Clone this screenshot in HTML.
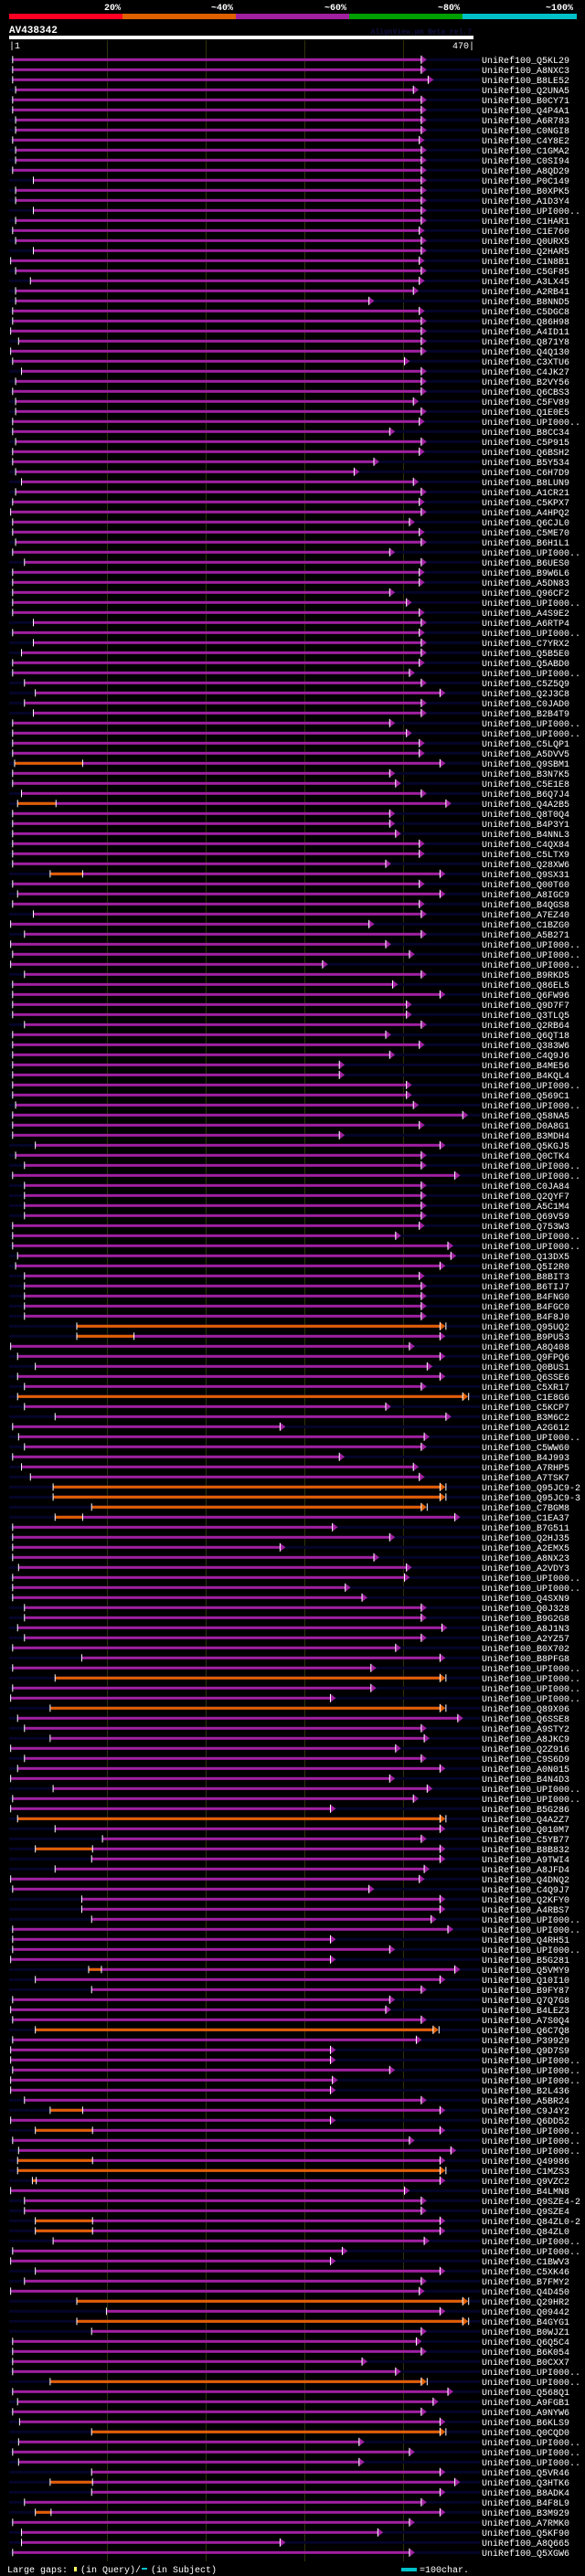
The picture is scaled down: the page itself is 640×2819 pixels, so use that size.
<!DOCTYPE html>
<html><head><meta charset="utf-8"><title>AV438342 alignment</title>
<style>
html,body{margin:0;padding:0;background:#000;}
svg{display:block;}
text{font-family:"Liberation Mono","DejaVu Sans Mono",monospace;}
</style></head>
<body>
<svg id="chart" width="640" height="2819" viewBox="0 0 640 2819" xmlns="http://www.w3.org/2000/svg">
<rect x="0" y="0" width="640" height="2819" fill="#000"/>
<g>
<rect x="10" y="15" width="124" height="6" fill="#ff0022"/>
<rect x="134" y="15" width="124" height="6" fill="#e06000"/>
<rect x="258" y="15" width="124" height="6" fill="#a020a0"/>
<rect x="382" y="15" width="124" height="6" fill="#00a000"/>
<rect x="506" y="15" width="125" height="6" fill="#00c0c8"/>
<text x="123" y="11" fill="#fff" font-size="10" font-weight="bold" text-anchor="middle">20%</text>
<text x="243" y="11" fill="#fff" font-size="10" font-weight="bold" text-anchor="middle">~40%</text>
<text x="367" y="11" fill="#fff" font-size="10" font-weight="bold" text-anchor="middle">~60%</text>
<text x="491" y="11" fill="#fff" font-size="10" font-weight="bold" text-anchor="middle">~80%</text>
<text x="612" y="11" fill="#fff" font-size="10" font-weight="bold" text-anchor="middle">~100%</text>
</g>
<text x="10" y="36" fill="#fff" font-size="11" font-weight="bold">AV438342</text>
<text x="516" y="37" fill="#101040" font-size="8" font-weight="bold" text-anchor="end">AlignView.pm Beta rel.7</text>
<rect x="10" y="39" width="508" height="4" fill="#fff"/>
<text x="10" y="53" fill="#fff" font-size="10">|1</text>
<text x="519" y="53" fill="#fff" font-size="10" text-anchor="end">470|</text>
<g id="grid"></g>
<g id="rows"></g>
<g>
<text x="8" y="2815" fill="#fff" font-size="10">Large gaps:</text>
<rect x="81" y="2809" width="3" height="5" fill="#ffff60"/>
<text x="88" y="2815" fill="#fff" font-size="10">(in Query)/</text>
<rect x="155" y="2810" width="6" height="2" fill="#00c0c8"/>
<text x="165" y="2815" fill="#fff" font-size="10">(in Subject)</text>
<rect x="439" y="2810" width="17" height="4" fill="#00c0c8"/>
<text x="459" y="2815" fill="#fff" font-size="10">=100char.</text>
</g>
</svg>
<script>
const queryLength = 470;
const gridTicks = [100, 200, 300, 400];
const names = ["Q5KL29","A8NXC3","B8LE52","Q2UNA5","B0CY71","Q4P4A1","A6R783","C0NGI8","C4Y8E2","C1GMA2","C0SI94","A8QD29","P0C149","B0XPK5","A1D3Y4","UPI000..","C1HAR1","C1E760","Q0URX5","Q2HAR5","C1N8B1","C5GF85","A3LX45","A2RB41","B8NND5","C5DGC8","Q86H98","A4ID11","Q871Y8","Q4Q130","C3XTU6","C4JK27","B2VY56","Q6CBS3","C5FV89","Q1E0E5","UPI000..","B8CC34","C5P915","Q6BSH2","B5Y534","C6H7D9","B8LUN9","A1CR21","C5KPX7","A4HPQ2","Q6CJL0","C5ME70","B6H1L1","UPI000..","B6UES0","B9W6L6","A5DN83","Q96CF2","UPI000..","A4S9E2","A6RTP4","UPI000..","C7YRX2","Q5B5E0","Q5ABD0","UPI000..","C5Z5Q9",
"Q2J3C8","C0JAD0","B2B4T9","UPI000..","UPI000..","C5LQP1","A5DVV5","Q9SBM1","B3N7K5","C5E1E8","B6Q7J4","Q4A2B5","Q8T0Q4","B4P3Y1","B4NNL3","C4QX84","C5LTX9","Q28XW6","Q9SX31","Q00T60","A8IGC9","B4QGS8","A7EZ40","C1BZG0","A5B271","UPI000..","UPI000..","UPI000..","B9RKD5","Q86EL5","Q6FW96","Q9D7F7","Q3TLQ5","Q2RB64","Q6QT18","Q383W6","C4Q9J6","B4ME56","B4KQL4","UPI000..","Q569C1","UPI000..","Q58NA5","D0A8G1","B3MDH4","Q5KGJ5","Q0CTK4","UPI000..","UPI000..","C0JA84","Q2QYF7","A5C1M4","Q69V59","Q753W3","UPI000..","UPI000..","Q13DX5","Q5I2R0","B8BIT3","B6TIJ7","B4FNG0","B4FGC0","B4F8J0",
"Q95UQ2","B9PU53","A8Q408","Q9FPQ6","Q0BUS1","Q6SSE6","C5XR17","C1E8G6","C5KCP7","B3M6C2","A2G612","UPI000..","C5WW60","B4J993","A7RHP5","A7TSK7","Q95JC9-2","Q95JC9-3","C7BGM8","C1EA37","B7G511","Q2HJ35","A2EMX5","A8NX23","A2VDY3","UPI000..","UPI000..","Q4SXN9","Q0J328","B9G2G8","A8J1N3","A2YZ57","B0X702","B8PFG8","UPI000..","UPI000..","UPI000..","UPI000..","Q89X06","Q6SSE8","A9STY2","A8JKC9","Q2Z916","C9S6D9","A0N015","B4N4D3","UPI000..","UPI000..","B5G286","Q4A2Z7","Q010M7","C5YB77","B8B832","A9TWI4","A8JFD4","Q4DNQ2","C4Q9J7","Q2KFY0","A4RBS7","UPI000..","UPI000..","Q4RH51",
"UPI000..","B5G281","Q5VMY9","Q10I10","B9FY87","Q7Q7G8","B4LEZ3","A7S0Q4","Q6C7Q8","P39929","Q9D7S9","UPI000..","UPI000..","UPI000..","B2L436","A5BR24","C9J4Y2","Q6DD52","UPI000..","UPI000..","UPI000..","Q49986","C1MZS3","Q9VZC2","B4LMN8","Q9SZE4-2","Q9SZE4","Q84ZL0-2","Q84ZL0","UPI000..","UPI000..","C1BWV3","C5XK46","B7FMY2","Q4D450","Q29HR2","Q09442","B4GYG1","B0WJZ1","Q6Q5C4","B6K054","B0CXX7","UPI000..","UPI000..","Q568Q1","A9FGB1","A9NYW6","B6KLS9","Q0CQD0","UPI000..","UPI000..","UPI000..","Q5VR46","Q3HTK6","B8ADK4","B4F8L9","B3M929","A7RMK0","Q5KF90","A8Q665","Q5XGW6"];
const starts = [5,5,5,8,5,5,8,8,5,8,8,5,26,8,8,26,8,5,8,26,3,8,23,8,8,5,5,3,11,3,5,14,8,5,8,8,5,5,8,5,5,8,14,8,5,3,5,5,8,5,17,5,5,5,5,5,26,5,26,14,5,5,17,
28,17,26,5,5,5,5,7,5,5,14,10,5,5,5,5,5,5,43,5,10,5,26,3,17,3,5,3,17,5,5,5,5,17,5,5,5,5,5,5,5,8,5,5,5,28,8,17,5,17,17,17,17,5,5,5,10,8,17,17,17,17,17,
70,70,3,10,28,10,17,10,17,48,5,11,17,5,14,23,46,46,85,48,5,5,5,5,11,5,5,5,17,17,10,17,5,75,5,48,5,3,43,10,17,43,3,17,10,3,46,5,3,10,48,96,28,85,48,3,5,75,75,85,5,5,
5,3,82,28,85,5,3,5,28,5,3,3,5,3,3,17,43,3,28,5,11,10,10,25,3,17,17,28,28,46,5,3,28,17,3,70,100,70,85,5,5,5,5,43,5,10,5,12,85,11,5,11,85,43,85,17,28,5,14,14,5];
const ends = [424,424,431,416,424,424,424,424,422,424,424,424,424,424,424,424,424,422,424,424,422,424,422,416,371,422,424,424,424,424,407,424,424,424,416,424,422,392,424,422,376,356,416,424,422,424,412,422,424,392,424,422,422,392,409,422,424,422,424,424,422,412,424,
443,424,424,392,409,422,422,443,392,398,424,449,392,392,398,422,422,388,443,422,443,422,424,371,424,388,412,324,424,395,443,409,409,424,388,422,392,341,341,409,409,416,466,422,341,443,424,424,458,424,424,424,424,422,398,451,454,443,422,424,424,424,424,
443,443,412,443,430,443,424,466,388,449,281,427,424,341,416,422,443,443,424,458,334,392,281,376,409,407,347,364,424,424,445,424,398,443,373,443,373,332,443,461,424,427,398,424,443,392,430,416,332,443,443,424,443,443,427,422,371,443,443,434,451,332,
392,332,458,443,424,392,388,424,436,419,332,332,392,334,332,424,443,332,443,412,454,443,443,443,407,424,424,443,443,427,344,332,443,424,422,466,443,466,424,419,424,364,398,424,451,436,424,443,443,361,412,361,443,458,443,424,443,412,380,281,412];
const orangeRows = [71,75,82,127,128,134,143,144,145,146,162,165,176,179,191,197,205,207,210,211,212,216,217,224,226,232,237,242,245];
const orangeFrom = [7,10,43,70,70,10,46,46,85,48,48,43,10,28,82,28,43,28,10,10,25,28,28,70,70,43,85,43,28];
const orangeTo   = [75,48,75,443,127,466,443,443,424,75,443,443,443,85,94,436,75,85,85,443,28,85,85,466,466,424,443,85,43];

const NS = "http://www.w3.org/2000/svg";
const X0 = 10, PX = 1.08, ROW0 = 65.3, PITCH = 11;
function xOf(pos){ return X0 + (pos - 1) * PX; }
function yOf(i){ return ROW0 + i * PITCH; }
function mk(tag, attrs, parent){
  const e = document.createElementNS(NS, tag);
  for (const k in attrs) e.setAttribute(k, attrs[k]);
  parent.appendChild(e);
  return e;
}
const grid = document.getElementById("grid");
gridTicks.forEach(function(t){
  const l = mk("line", {x1: xOf(t)+0.5, x2: xOf(t)+0.5, y1: 44, y2: 2803, stroke: "#33330e", "stroke-width": 1}, grid);
  
  
});
const rowsG = document.getElementById("rows");
const PURPLE = "#a020a0", ORANGE = "#e06000";
for (let i = 0; i < names.length; i++) {
  const y = yOf(i);
  const g = mk("g", {}, rowsG);
  
  
  const full = orangeRows.indexOf(i+1);
  const xs = xOf(starts[i]), xe = xOf(ends[i]);
  const subj = mk("rect", {x: 10, y: y-1.5, width: 515, height: 3, fill: "#05052a"}, g);
  
  
  let endColor = PURPLE;
  const bar = mk("rect", {x: xs, y: y-1.5, width: Math.max(0, xe - 6 - xs), height: 3, fill: PURPLE}, g);
  
  
  if (full >= 0) {
    const of = xOf(orangeFrom[full]), ot = xOf(orangeTo[full]);
    const ob = mk("rect", {x: of, y: y-1.5, width: Math.max(1, Math.min(ot, xe-6) - of), height: 3, fill: ORANGE}, g);
    
    
    if (orangeTo[full] >= ends[i] - 1) endColor = ORANGE;
    const ot2 = mk("rect", {x: ot, y: y-4, width: 1, height: 8, fill: "#fff"}, g);
    
    
  }
  const tick = mk("rect", {x: xs-1, y: y-4, width: 1, height: 8, fill: "#fff"}, g);
  
  
  const arr = mk("polygon", {points: (xe-6)+","+(y-4.5)+" "+xe+","+y+" "+(xe-6)+","+(y+4.5), fill: endColor}, g);
  
  
  const aw = mk("rect", {x: xe-6.5, y: y-4.5, width: 1, height: 9, fill: "#fff"}, g);
  
  
  const t = mk("text", {x: 527, y: y+3.5, fill: "#fff", "font-size": 10}, g);
  t.textContent = "UniRef100_" + names[i];
  
  
}
</script>
</body></html>
